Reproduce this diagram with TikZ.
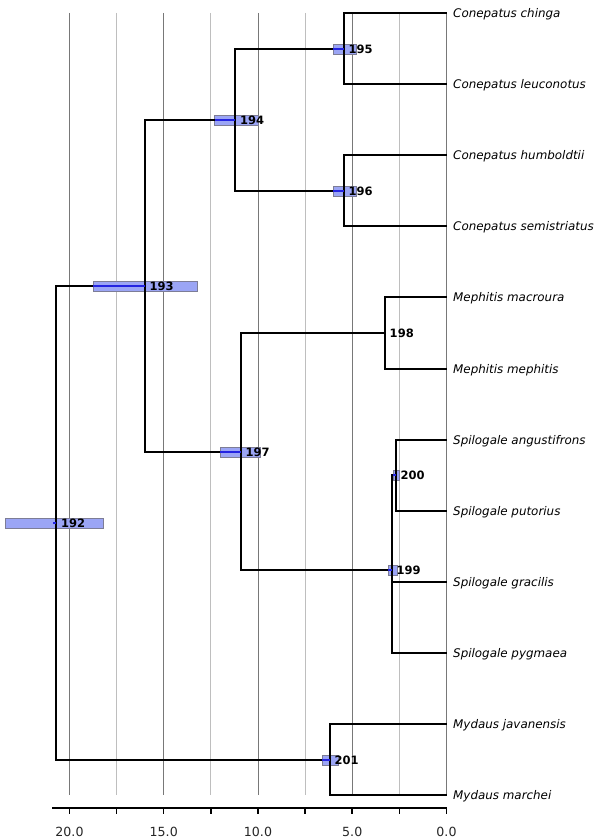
\documentclass[tikz,border=0pt]{standalone}
\usepackage{fontspec}
\setmainfont{DejaVu Sans}[ItalicFont={DejaVu Sans Oblique},BoldFont={DejaVu Sans Bold}]
\usepackage{tikz}

\definecolor{hpdfill}{RGB}{155,165,245}
\definecolor{hpdedge}{RGB}{125,125,150}
\definecolor{hpdblue}{RGB}{35,35,225}
\definecolor{gridmajor}{RGB}{120,120,120}
\definecolor{gridminor}{RGB}{190,190,190}

\begin{document}
\begin{tikzpicture}[
  x={(-18.85pt,0)}, y={(0,-1pt)},
  clade/.style={line width=2.2pt, line cap=rect},
  stem/.style={line width=2pt},
  tip/.style={line width=2.2pt},
  leaf/.style={anchor=west, inner xsep=6.5pt, inner ysep=0pt,
    text height=8.7pt, text depth=0pt,
    font=\fontsize{11.9}{14}\selectfont\itshape},
  nlabel/.style={anchor=west, inner sep=0pt, xshift=4.5pt,
    text height=8.4pt, text depth=0pt,
    font=\fontsize{11.5}{13}\selectfont\bfseries},
  hpd/.style={fill=hpdfill, draw=hpdedge, line width=0.6pt},
  hpdline/.style={draw=hpdblue, line width=2pt},
  major/.style={draw=gridmajor, line width=0.9pt},
  minor/.style={draw=gridminor, line width=0.9pt},
  axisline/.style={line width=1.8pt},
  axistick/.style={line width=1.5pt},
  axislabel/.style={inner sep=0pt, text height=9.2pt, text depth=0pt,
    text=black!85, font=\fontsize{12.6}{15}\selectfont}
]
  \useasboundingbox (23.687,0) rectangle (-8.143,840);

  \foreach \t in {2.5,7.5,12.5,17.5}
    \draw[minor] (\t,13) -- (\t,795);
  \foreach \t in {0,5,10,15,20}
    \draw[major] (\t,13) -- (\t,795);

  \coordinate (n192) at (20.7,523);
  \coordinate (n193) at (16.0,286);
  \coordinate (n194) at (11.2,120);
  \coordinate (n195) at (5.44,49);
  \coordinate (n196) at (5.44,191);
  \coordinate (n197) at (10.9,452);
  \coordinate (n198) at (3.26,333);
  \coordinate (n199) at (2.9,570);
  \coordinate (n200) at (2.68,475);
  \coordinate (n201) at (6.18,760);

  \node[leaf] (chinga) at (0,13) {Conepatus chinga};
  \node[leaf] (leuconotus) at (0,84) {Conepatus leuconotus};
  \node[leaf] (humboldtii) at (0,155) {Conepatus humboldtii};
  \node[leaf] (semistriatus) at (0,226) {Conepatus semistriatus};
  \node[leaf] (macroura) at (0,297) {Mephitis macroura};
  \node[leaf] (mephitis) at (0,369) {Mephitis mephitis};
  \node[leaf] (angustifrons) at (0,440) {Spilogale angustifrons};
  \node[leaf] (putorius) at (0,511) {Spilogale putorius};
  \node[leaf] (gracilis) at (0,582) {Spilogale gracilis};
  \node[leaf] (pygmaea) at (0,653) {Spilogale pygmaea};
  \node[leaf] (javanensis) at (0,724) {Mydaus javanensis};
  \node[leaf] (marchei) at (0,795) {Mydaus marchei};

  \foreach \n/\lo/\hi in {192/23.4/18.2, 193/18.75/13.2, 194/12.3/10.0,
      195/6.0/4.8, 196/6.0/4.8, 197/12.0/9.9, 199/3.1/2.6,
      200/2.84/2.52, 201/6.6/5.75}
    \draw[hpd] ([yshift=5pt]\lo,0 |- n\n) rectangle ([yshift=-5pt]\hi,0 |- n\n);

  \draw[stem] (n192) |- (n193);
  \draw[stem] (n192) |- (n201);
  \draw[stem] (n193) |- (n194);
  \draw[stem] (n193) |- (n197);
  \draw[stem] (n194) |- (n195);
  \draw[stem] (n194) |- (n196);
  \draw[stem] (n197) |- (n198);
  \draw[stem] (n197) |- (n199);
  \draw[stem] (n199) |- (n200);
  \draw[clade] (n192 |- n193) -- (n192 |- n201);
  \draw[clade] (n193 |- n194) -- (n193 |- n197);
  \draw[clade] (n194 |- n195) -- (n194 |- n196);
  \draw[clade] (n197 |- n198) -- (n197 |- n199);
  \draw[clade] (n199 |- n200) -- (n199 |- pygmaea.west);

  \draw[tip] (n195) |- (chinga.west);
  \draw[tip] (n195) |- (leuconotus.west);
  \draw[tip] (n196) |- (humboldtii.west);
  \draw[tip] (n196) |- (semistriatus.west);
  \draw[tip] (n198) |- (macroura.west);
  \draw[tip] (n198) |- (mephitis.west);
  \draw[tip] (n200) |- (angustifrons.west);
  \draw[tip] (n200) |- (putorius.west);
  \draw[tip] (n199) |- (gracilis.west);
  \draw[tip] (n199) |- (pygmaea.west);
  \draw[tip] (n201) |- (javanensis.west);
  \draw[tip] (n201) |- (marchei.west);

  \foreach \n/\lo in {193/18.75, 194/12.3, 195/6.0, 196/6.0, 197/12.0,
      199/3.1, 200/2.84, 201/6.6}
    \draw[hpdline] (\lo,0 |- n\n) -- (n\n);
  \draw[hpdline] ([xshift=-3pt]n192) -- (n192);

  \foreach \n in {192,193,194,195,196,197,198,199,200,201}
    \node[nlabel] (l\n) at (n\n) {\n};

  \coordinate (axisL) at (20.92,808);
  \coordinate (axisR) at (0,808);
  \draw[axisline] (axisL) -- (axisR);
  \foreach \t in {0,2.5,...,20}
    \draw[axistick] (\t,808) -- (\t,814);
  \foreach \t/\lab in {0/0.0, 5/5.0, 10/10.0, 15/15.0, 20/20.0}
    \node[axislabel] (tick\t) at (\t,832) {\lab};
\end{tikzpicture}
\end{document}
